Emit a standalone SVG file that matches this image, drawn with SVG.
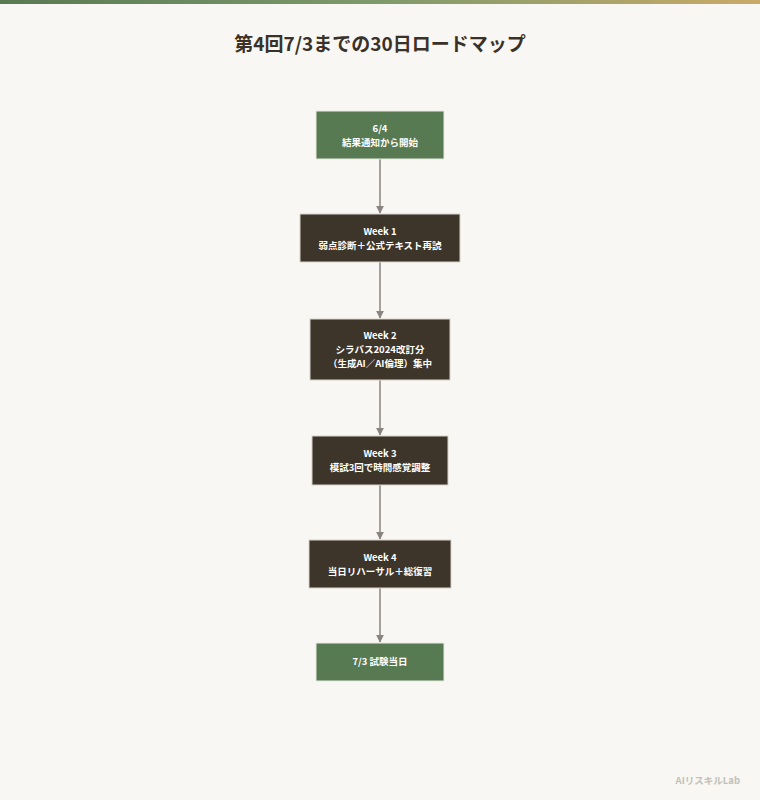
<svg xmlns="http://www.w3.org/2000/svg" width="760" height="800" viewBox="0 0 760 800">
<defs>
<linearGradient id="bar" x1="0" y1="0" x2="1" y2="0">
<stop offset="0" stop-color="#587a52"/>
<stop offset="0.5" stop-color="#7f9a6c"/>
<stop offset="1" stop-color="#c9aa68"/>
</linearGradient>
<marker id="arr" viewBox="0 0 10 10" refX="9" refY="5" markerWidth="8" markerHeight="8" orient="auto" markerUnits="userSpaceOnUse">
<path d="M0,0 L10,5 L0,10 z" fill="#8a8480"/>
</marker>
<style>
text{font-family:"Noto Sans CJK JP","Noto Sans",sans-serif;}
.g{fill:#587a52;stroke:#e8eae2;stroke-width:1;}
.d{fill:#3d3529;stroke:#d8d4cc;stroke-width:1;}
.t{fill:#ffffff;font-size:9.5px;font-weight:700;text-anchor:middle;}
.c{stroke:#8a8480;stroke-width:1.5;fill:none;}
</style>
</defs>
<rect width="760" height="800" fill="#f8f7f3"/>
<rect width="760" height="4" fill="url(#bar)"/>
<text x="380" y="51" text-anchor="middle" font-size="19" font-weight="700" fill="#3a3228">第4回7/3までの30日ロードマップ</text>
<g id="connectors">
<line class="c" x1="380" y1="159" x2="380" y2="213" marker-end="url(#arr)"/>
<line class="c" x1="380" y1="262" x2="380" y2="318" marker-end="url(#arr)"/>
<line class="c" x1="380" y1="380" x2="380" y2="435" marker-end="url(#arr)"/>
<line class="c" x1="380" y1="485" x2="380" y2="539" marker-end="url(#arr)"/>
<line class="c" x1="380" y1="588" x2="380" y2="642" marker-end="url(#arr)"/>
</g>
<g id="n1"><rect class="g" x="316" y="111" width="128" height="48"/>
<text class="t" x="380" y="132">6/4</text><text class="t" x="380" y="146">結果通知から開始</text></g>
<g id="n2"><rect class="d" x="300" y="214" width="160" height="48"/>
<text class="t" x="380" y="235">Week 1</text><text class="t" x="380" y="249">弱点診断＋公式テキスト再読</text></g>
<g id="n3"><rect class="d" x="310" y="319" width="140" height="61"/>
<text class="t" x="380" y="339">Week 2</text><text class="t" x="380" y="353">シラバス2024改訂分</text><text class="t" x="380" y="367">（生成AI／AI倫理）集中</text></g>
<g id="n4"><rect class="d" x="312" y="436" width="136" height="49"/>
<text class="t" x="380" y="457">Week 3</text><text class="t" x="380" y="471">模試3回で時間感覚調整</text></g>
<g id="n5"><rect class="d" x="309" y="540" width="142" height="48"/>
<text class="t" x="380" y="561">Week 4</text><text class="t" x="380" y="575">当日リハーサル＋総復習</text></g>
<g id="n6"><rect class="g" x="316" y="643" width="128" height="38"/>
<text class="t" x="380" y="665">7/3 試験当日</text></g>
<text x="740" y="784" text-anchor="end" font-size="9.5" font-weight="700" fill="#c4c0ba">AIリスキルLab</text>
</svg>
